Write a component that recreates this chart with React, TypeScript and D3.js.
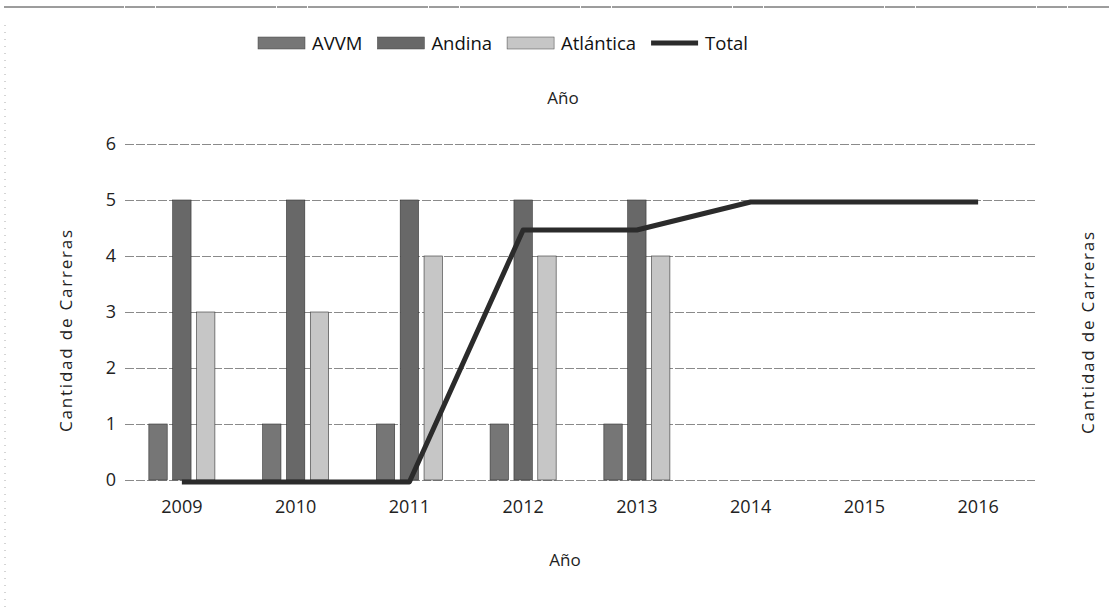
import { useEffect, useRef } from 'react';
import * as d3 from 'd3';

const years = ['2009', '2010', '2011', '2012', '2013', '2014', '2015', '2016'];
const avvm = [1, 1, 1, 1, 1, null, null, null];
const andina = [5, 5, 5, 5, 5, null, null, null];
const atlantica = [3, 3, 4, 4, 4, null, null, null];
const total = [0, 0, 0, 4.5, 4.5, 5, 5, 5];
const yTicks = [0, 1, 2, 3, 4, 5, 6];

const W = 1109;
const H = 607;
const FONT = '"Open Sans", "Liberation Sans", sans-serif';

export default function App() {
  const ref = useRef<SVGSVGElement>(null);

  useEffect(() => {
    const svg = d3.select(ref.current);
    svg.selectAll('*').remove();

    const left = 125, right = 1035, top = 144, bottom = 480;

    const x0 = d3.scaleBand().domain(years).range([left, right]).padding(0);
    const keys = ['AVVM', 'Andina', 'Atlántica'];
    const x1 = d3.scaleBand().domain(keys).range([0, x0.bandwidth()]).paddingInner(0.23).paddingOuter(1.0);
    const y = d3.scaleLinear().domain([0, 6]).range([bottom, top]);
    const y2 = d3.scaleLinear().domain([0, 6]).range([bottom, top]);

    const colors: Record<string, string> = { AVVM: '#767676', Andina: '#686868', 'Atlántica': '#c6c6c6' };
    const seriesVals: Record<string, (number | null)[]> = { AVVM: avvm, Andina: andina, 'Atlántica': atlantica };

    // scan border bits
    svg.append('line').attr('x1', 4).attr('x2', W).attr('y1', 7).attr('y2', 7)
      .attr('stroke', '#3a3a3a').attr('stroke-width', 1).attr('stroke-dasharray', '120 1 30 1');
    svg.append('line').attr('x1', 5).attr('x2', 5).attr('y1', 25).attr('y2', H)
      .attr('stroke', '#aaa').attr('stroke-width', 1).attr('stroke-dasharray', '1 6');

    // grid
    svg.append('g')
      .attr('transform', `translate(${left},0)`)
      .call(d3.axisLeft(y).tickValues(yTicks).tickSize(-(right - left)).tickFormat('' as never))
      .call(g => g.select('.domain').remove())
      .call(g => g.selectAll('line').attr('stroke', '#8a8a8a').attr('stroke-dasharray', '9 2'));

    // y tick labels
    svg.append('g')
      .attr('transform', `translate(${left},0)`)
      .call(d3.axisLeft(y).tickValues(yTicks).tickSize(0).tickPadding(9).tickFormat(d3.format('d')))
      .call(g => g.select('.domain').remove())
      .call(g => g.selectAll('text').attr('font-family', FONT).attr('font-size', 18).attr('fill', '#222'));

    // bars
    keys.forEach(k => {
      svg.append('g').selectAll('rect')
        .data(years.map((yr, i) => ({ yr, v: seriesVals[k][i] })).filter(d => d.v !== null))
        .enter().append('rect')
        .attr('x', d => x0(d.yr)! + x1(k)!)
        .attr('width', x1.bandwidth())
        .attr('y', d => y(d.v as number))
        .attr('height', d => bottom - y(d.v as number))
        .attr('fill', colors[k])
        .attr('stroke', '#333').attr('stroke-width', 0.6);
    });

    // total line
    const line = d3.line<number>()
      .x((_, i) => x0(years[i])! + x0.bandwidth() / 2)
      .y(d => y2(d) + 2);
    svg.append('path').datum(total).attr('d', line)
      .attr('fill', 'none').attr('stroke', '#2b2b2b').attr('stroke-width', 5)
      .attr('stroke-linejoin', 'round');

    // x tick labels
    svg.append('g')
      .attr('transform', `translate(0,${bottom})`)
      .call(d3.axisBottom(x0).tickSize(0).tickPadding(20))
      .call(g => g.select('.domain').remove())
      .call(g => g.selectAll('text').attr('font-family', FONT).attr('font-size', 18).attr('fill', '#222'));

    // titles
    svg.append('text').attr('x', 563).attr('y', 104).attr('text-anchor', 'middle')
      .attr('font-family', FONT).attr('font-size', 17).attr('fill', '#222').text('Año');
    svg.append('text').attr('x', 565).attr('y', 566).attr('text-anchor', 'middle')
      .attr('font-family', FONT).attr('font-size', 17).attr('fill', '#222').text('Año');
    svg.append('text').attr('transform', `translate(72,330) rotate(-90)`).attr('text-anchor', 'middle')
      .attr('font-family', FONT).attr('font-size', 17).attr('letter-spacing', 1.8).attr('fill', '#222')
      .text('Cantidad de Carreras');
    svg.append('text').attr('transform', `translate(1094,332) rotate(-90)`).attr('text-anchor', 'middle')
      .attr('font-family', FONT).attr('font-size', 17).attr('letter-spacing', 1.8).attr('fill', '#222')
      .text('Cantidad de Carreras');

    // legend
    const legendItems = [
      { label: 'AVVM', color: colors.AVVM, kind: 'bar' },
      { label: 'Andina', color: colors.Andina, kind: 'bar' },
      { label: 'Atlántica', color: colors['Atlántica'], kind: 'bar' },
      { label: 'Total', color: '#2b2b2b', kind: 'line' },
    ];
    let lx = 258;
    const ly = 43;
    legendItems.forEach(it => {
      if (it.kind === 'bar') {
        svg.append('rect').attr('x', lx).attr('y', ly - 6).attr('width', 47).attr('height', 12)
          .attr('fill', it.color).attr('stroke', '#444').attr('stroke-width', 0.5);
      } else {
        svg.append('line').attr('x1', lx).attr('x2', lx + 47).attr('y1', ly).attr('y2', ly)
          .attr('stroke', it.color).attr('stroke-width', 5);
      }
      const t = svg.append('text').attr('x', lx + 54).attr('y', ly + 7)
        .attr('font-family', FONT).attr('font-size', 18.5).attr('fill', '#111').text(it.label);
      const tw = (t.node() as SVGTextElement).getComputedTextLength();
      lx += 54 + tw + 15;
    });
  }, []);

  return (
    <svg ref={ref} width={W} height={H}
      style={{ position: 'absolute', left: 0, top: 0, background: '#fff' }} />
  );
}
